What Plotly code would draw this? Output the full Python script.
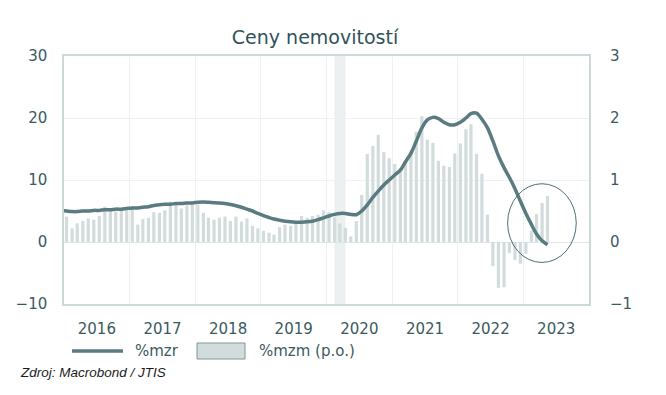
import plotly.graph_objects as go

# ---------------- data ----------------
bar_dates = [f"{y}-{m:02d}-15" for y in range(2016, 2024) for m in range(1, 13)][:89]
mzm = [
    # 2016
    0.41, 0.22, 0.30, 0.34, 0.38, 0.36, 0.42, 0.57, 0.51, 0.49, 0.55, 0.51,
    # 2017
    0.58, 0.28, 0.37, 0.39, 0.48, 0.47, 0.51, 0.65, 0.63, 0.54, 0.59, 0.64,
    # 2018
    0.60, 0.47, 0.39, 0.36, 0.39, 0.41, 0.34, 0.41, 0.33, 0.38, 0.26, 0.22,
    # 2019
    0.18, 0.15, 0.12, 0.24, 0.28, 0.26, 0.31, 0.42, 0.39, 0.42, 0.44, 0.51,
    # 2020
    0.48, 0.40, 0.30, 0.23, 0.09, 0.34, 0.76, 1.42, 1.55, 1.73, 1.45, 1.35,
    # 2021
    1.26, 1.18, 1.28, 1.48, 1.78, 2.03, 1.65, 1.60, 1.31, 1.23, 1.21, 1.43,
    # 2022
    1.59, 1.82, 1.90, 1.42, 1.10, 0.44, -0.39, -0.74, -0.73, -0.18, -0.29, -0.35,
    # 2023
    -0.19, 0.18, 0.45, 0.63, 0.74,
]

line_dates = ["2015-12-15"] + bar_dates
mzr = [
    5.1,
    # 2016
    5.0, 4.9, 4.9, 5.0, 5.0, 5.1, 5.1, 5.2, 5.2, 5.3, 5.3, 5.4,
    # 2017
    5.5, 5.5, 5.6, 5.7, 5.9, 6.0, 6.1, 6.1, 6.2, 6.2, 6.3, 6.3,
    # 2018
    6.4, 6.45, 6.4, 6.35, 6.3, 6.2, 6.05, 5.85, 5.6, 5.3, 5.0, 4.6,
    # 2019
    4.25, 3.95, 3.7, 3.5, 3.35, 3.25, 3.2, 3.2, 3.25, 3.35, 3.6, 3.9,
    # 2020
    4.2, 4.45, 4.6, 4.6, 4.45, 4.4, 5.0, 6.0, 7.2, 8.2, 9.2, 10.0,
    # 2021
    10.8, 11.6, 12.9, 14.3, 16.3, 18.4, 19.7, 20.1, 19.9, 19.3, 18.9, 18.9,
    # 2022
    19.3, 20.0, 20.7, 20.8, 19.8, 18.4, 16.3, 13.9, 12.0, 10.4, 8.6, 6.6,
    # 2023
    4.6, 2.8, 1.3, 0.2, -0.45,
]

left_ticks = [-10, 0, 10, 20, 30]
right_ticks = [-1, 0, 1, 2, 3]
legend_labels = ["%mzr", "%mzm (p.o.)"]

# ---------------- style ----------------
TXT = "#3b5a60"
LINE = "#5a7b7f"
BAR = "#d3dcdd"
GRID = "#edf1f2"
FRAME = "#cdd8da"
FONT = "DejaVu Sans"

W, H = 666, 395
OFF = 8  # page offset of the figure inside the browser window
L, R, T, B = 64 - OFF, 589 - OFF, 56 - OFF, 304 - OFF
PW, PH = R - L, B - T


def px_x(p):
    return (p - OFF - L) / PW


def px_y(p):
    return (B - (p - OFF)) / PH


fig = go.Figure()

fig.add_trace(go.Bar(
    x=bar_dates, y=mzm, name=legend_labels[1], yaxis="y",
    marker=dict(color=BAR, line=dict(width=0)),
    width=[18 * 86400000] * len(mzm), showlegend=False,
))
fig.add_trace(go.Scatter(
    x=line_dates, y=mzr, name=legend_labels[0], yaxis="y2", mode="lines",
    line=dict(color=LINE, width=3.5, shape="spline", smoothing=0.8), showlegend=False,
))

# shaded band (early 2020)
fig.add_shape(type="rect", xref="x", yref="paper", x0="2020-02-14", x1="2020-04-16",
              y0=0, y1=1, fillcolor="#ecf0f1", line=dict(width=0), layer="below")
# ellipse highlight
fig.add_shape(type="circle", xref="x", yref="y2", x0="2022-10-05", x1="2023-10-22",
              y0=-3.3, y1=9.4, line=dict(color="#4e6e73", width=1), layer="above")

# legend (drawn)
ly = px_y(351)
fig.add_shape(type="line", xref="paper", yref="paper", x0=px_x(72), x1=px_x(123),
              y0=ly, y1=ly, line=dict(color=LINE, width=3.5))
fig.add_shape(type="rect", xref="paper", yref="paper", x0=px_x(197), x1=px_x(245),
              y0=px_y(359), y1=px_y(343), fillcolor=BAR, line=dict(color="#7f9598", width=1))
fig.add_annotation(text=legend_labels[0], xref="paper", yref="paper", x=px_x(133), y=ly,
                   xanchor="left", yanchor="middle", showarrow=False,
                   font=dict(family=FONT, size=15, color=TXT))
fig.add_annotation(text=legend_labels[1], xref="paper", yref="paper", x=px_x(257), y=ly,
                   xanchor="left", yanchor="middle", showarrow=False,
                   font=dict(family=FONT, size=15, color=TXT))

fig.update_layout(
    width=W, height=H,
    margin=dict(l=L, r=W - R, t=T, b=H - B, autoexpand=False),
    paper_bgcolor="white", plot_bgcolor="white",
    font=dict(family=FONT, color=TXT, size=15),
    title=dict(text="Ceny nemovitostí", x=(315 - OFF) / W, xref="container", xanchor="center",
               y=1 - (37 - OFF) / H, yref="container", yanchor="middle",
               font=dict(family=FONT, size=19, color="#2f5258")),
    xaxis=dict(
        type="date", range=["2016-01-01", "2024-01-01"],
        tick0="2016-01-01", dtick="M12", tickformat="%Y", ticklabelmode="period",
        showgrid=True, gridcolor=GRID, gridwidth=1,
        showline=True, linecolor=FRAME, linewidth=1.5, mirror=True,
        ticks="", tickfont=dict(size=15, color=TXT), ticklabelstandoff=10,
    ),
    yaxis=dict(
        side="right", range=[-1, 3], tickvals=right_ticks,
        showgrid=True, gridcolor=GRID, zeroline=True, zerolinecolor="#dfe6e7", zerolinewidth=1,
        showline=True, linecolor=FRAME, linewidth=2,
        ticks="", tickfont=dict(size=15, color=TXT), ticklabelstandoff=16,
    ),
    yaxis2=dict(
        side="left", overlaying="y", range=[-10, 30], tickvals=left_ticks,
        showgrid=False, zeroline=False,
        showline=True, linecolor=FRAME, linewidth=1.5,
        ticks="", tickfont=dict(size=15, color=TXT), ticklabelstandoff=12,
    ),
    showlegend=False,
)

fig.add_annotation(
    text="<i>Zdroj: Macrobond / JTIS</i>", xref="paper", yref="paper",
    x=px_x(18), y=px_y(372), xanchor="left", yanchor="middle", showarrow=False,
    font=dict(family="Liberation Sans", size=13.5, color="#1c1c1c"),
)

fig.write_html("out.html")
